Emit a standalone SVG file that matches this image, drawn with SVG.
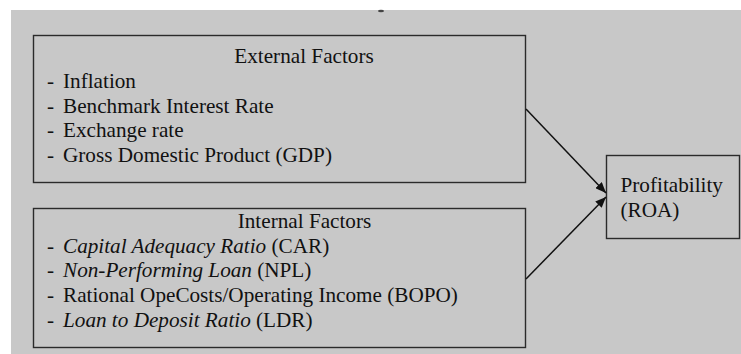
<svg xmlns="http://www.w3.org/2000/svg" width="741" height="354" viewBox="0 0 741 354">
<style>
.box{fill:none;stroke:#2b2b2b;stroke-width:1.4}
.t{font-family:'Liberation Serif','Times New Roman',serif;font-size:21.2px;fill:#111}
.i{font-style:italic}
.c{text-anchor:middle}
.conn{stroke:#111;stroke-width:1.5;fill:none}
</style>
<defs>
<marker id="ah" viewBox="0 0 12 10" refX="12" refY="5" markerWidth="11" markerHeight="9" markerUnits="userSpaceOnUse" orient="auto">
<path d="M0,0 L12,5 L0,10 z" fill="#111"/>
</marker>
</defs>
<rect x="0" y="0" width="741" height="354" fill="#ffffff"/>
<rect x="11" y="10" width="730" height="344" fill="#c8c8c8"/>
<ellipse cx="381" cy="11" rx="3" ry="1.2" fill="#444"/>
<g id="external">
<rect class="box" x="33.5" y="35.5" width="492" height="147"/>
<text class="t c" x="304" y="63">External Factors</text>
<text class="t" x="47" y="88">-</text><text class="t" x="63" y="88">Inflation</text>
<text class="t" x="47" y="112.5">-</text><text class="t" x="63" y="112.5">Benchmark Interest Rate</text>
<text class="t" x="47" y="137">-</text><text class="t" x="63" y="137">Exchange rate</text>
<text class="t" x="47" y="161.5">-</text><text class="t" x="63" y="161.5">Gross Domestic Product (GDP)</text>
</g>
<g id="internal">
<rect class="box" x="33.5" y="208.5" width="492" height="139"/>
<text class="t c" x="304.5" y="227.5">Internal Factors</text>
<text class="t" x="47" y="252.5">-</text><text class="t" x="63" y="252.5"><tspan class="i">Capital Adequacy Ratio</tspan> (CAR)</text>
<text class="t" x="47" y="277">-</text><text class="t" x="63" y="277"><tspan class="i">Non-Performing Loan</tspan> (NPL)</text>
<text class="t" x="47" y="301.5">-</text><text class="t" x="63" y="301.5">Rational OpeCosts/Operating Income (BOPO)</text>
<text class="t" x="47" y="326.5">-</text><text class="t" x="63" y="326.5"><tspan class="i">Loan to Deposit Ratio</tspan> (LDR)</text>
</g>
<g id="profitability">
<rect class="box" x="606.5" y="155.5" width="133" height="83"/>
<text class="t" x="620.5" y="192">Profitability</text>
<text class="t" x="620.5" y="216.5">(ROA)</text>
</g>
<g id="connectors">
<line class="conn" x1="526" y1="109" x2="606" y2="193" marker-end="url(#ah)"/>
<line class="conn" x1="526" y1="279" x2="606" y2="197" marker-end="url(#ah)"/>
</g>
</svg>
